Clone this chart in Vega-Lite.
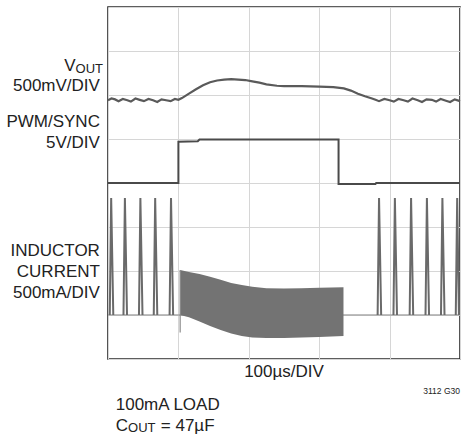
{
  "$schema": "https://vega.github.io/schema/vega-lite/v6.json",
  "width": 352,
  "height": 352,
  "autosize": {"type": "none"},
  "padding": {"left": 108, "top": 7, "right": 8, "bottom": 76},
  "background": "white",
  "config": {
    "view": {"stroke": "#2a2a2a", "strokeWidth": 1.6},
    "text": {"font": "Liberation Sans", "color": "#222222"}
  },
  "datasets": {
    "vout": [
      {"t": 0.0, "v": 5.88}, {"t": 0.1, "v": 5.92}, {"t": 0.2, "v": 5.9}, {"t": 0.3, "v": 5.86}, {"t": 0.42, "v": 5.91},
      {"t": 0.55, "v": 5.88}, {"t": 0.65, "v": 5.85}, {"t": 0.78, "v": 5.92}, {"t": 0.9, "v": 5.89}, {"t": 1.02, "v": 5.86},
      {"t": 1.15, "v": 5.91}, {"t": 1.28, "v": 5.88}, {"t": 1.4, "v": 5.84}, {"t": 1.52, "v": 5.9}, {"t": 1.65, "v": 5.88},
      {"t": 1.78, "v": 5.86}, {"t": 1.9, "v": 5.91}, {"t": 2.0, "v": 5.89}, {"t": 2.1, "v": 5.93}, {"t": 2.3, "v": 6.03},
      {"t": 2.5, "v": 6.13}, {"t": 2.7, "v": 6.22}, {"t": 2.9, "v": 6.29}, {"t": 3.1, "v": 6.33}, {"t": 3.3, "v": 6.35},
      {"t": 3.5, "v": 6.36}, {"t": 3.7, "v": 6.35}, {"t": 3.9, "v": 6.34}, {"t": 4.1, "v": 6.31}, {"t": 4.3, "v": 6.28},
      {"t": 4.5, "v": 6.24}, {"t": 4.8, "v": 6.21}, {"t": 5.0, "v": 6.2}, {"t": 5.5, "v": 6.2}, {"t": 6.0, "v": 6.19},
      {"t": 6.4, "v": 6.18}, {"t": 6.7, "v": 6.15}, {"t": 6.9, "v": 6.1}, {"t": 7.1, "v": 6.03}, {"t": 7.3, "v": 5.97},
      {"t": 7.5, "v": 5.92}, {"t": 7.6, "v": 5.89}, {"t": 7.7, "v": 5.86}, {"t": 7.85, "v": 5.91}, {"t": 8.0, "v": 5.88},
      {"t": 8.12, "v": 5.85}, {"t": 8.25, "v": 5.91}, {"t": 8.4, "v": 5.88}, {"t": 8.52, "v": 5.85}, {"t": 8.65, "v": 5.92},
      {"t": 8.8, "v": 5.88}, {"t": 8.92, "v": 5.84}, {"t": 9.05, "v": 5.9}, {"t": 9.2, "v": 5.89}, {"t": 9.32, "v": 5.85},
      {"t": 9.45, "v": 5.91}, {"t": 9.6, "v": 5.87}, {"t": 9.72, "v": 5.84}, {"t": 9.85, "v": 5.9}, {"t": 10.0, "v": 5.86}
    ],
    "pwm": [
      {"t": 0.0, "v": 4.0}, {"t": 2.0, "v": 4.0}, {"t": 2.0, "v": 4.94}, {"t": 2.55, "v": 4.95}, {"t": 2.6, "v": 4.99},
      {"t": 6.55, "v": 4.99}, {"t": 6.55, "v": 3.98}, {"t": 7.6, "v": 3.98}, {"t": 7.62, "v": 4.0}, {"t": 10.0, "v": 4.0}
    ],
    "base": [
      {"t": 0.0, "v": 1.0}, {"t": 10.0, "v": 1.0}
    ],
    "pulses": [
      {"p": 1, "t": 0.05, "v": 1.0}, {"p": 1, "t": 0.09, "v": 3.66}, {"p": 1, "t": 0.15, "v": 1.0},
      {"p": 2, "t": 0.44, "v": 1.0}, {"p": 2, "t": 0.48, "v": 3.66}, {"p": 2, "t": 0.54, "v": 1.0},
      {"p": 3, "t": 0.88, "v": 1.0}, {"p": 3, "t": 0.92, "v": 3.66}, {"p": 3, "t": 0.98, "v": 1.0},
      {"p": 4, "t": 1.3, "v": 1.0}, {"p": 4, "t": 1.34, "v": 3.66}, {"p": 4, "t": 1.4, "v": 1.0},
      {"p": 5, "t": 1.75, "v": 1.0}, {"p": 5, "t": 1.79, "v": 3.66}, {"p": 5, "t": 1.85, "v": 1.0},
      {"p": 6, "t": 7.66, "v": 1.0}, {"p": 6, "t": 7.7, "v": 3.66}, {"p": 6, "t": 7.76, "v": 1.0},
      {"p": 7, "t": 8.11, "v": 1.0}, {"p": 7, "t": 8.15, "v": 3.66}, {"p": 7, "t": 8.21, "v": 1.0},
      {"p": 8, "t": 8.57, "v": 1.0}, {"p": 8, "t": 8.61, "v": 3.66}, {"p": 8, "t": 8.67, "v": 1.0},
      {"p": 9, "t": 9.02, "v": 1.0}, {"p": 9, "t": 9.06, "v": 3.66}, {"p": 9, "t": 9.12, "v": 1.0},
      {"p": 10, "t": 9.46, "v": 1.0}, {"p": 10, "t": 9.5, "v": 3.66}, {"p": 10, "t": 9.56, "v": 1.0},
      {"p": 11, "t": 9.88, "v": 1.0}, {"p": 11, "t": 9.92, "v": 3.66}, {"p": 11, "t": 9.97, "v": 1.0}
    ],
    "block": [
      {"t": 2.05, "hi": 2.02, "lo": 1.0}, {"t": 2.3, "hi": 1.98, "lo": 0.95}, {"t": 2.6, "hi": 1.93, "lo": 0.85},
      {"t": 2.9, "hi": 1.87, "lo": 0.75}, {"t": 3.2, "hi": 1.8, "lo": 0.66}, {"t": 3.5, "hi": 1.73, "lo": 0.58},
      {"t": 3.8, "hi": 1.68, "lo": 0.52}, {"t": 4.1, "hi": 1.64, "lo": 0.49}, {"t": 4.5, "hi": 1.61, "lo": 0.48},
      {"t": 5.0, "hi": 1.6, "lo": 0.48}, {"t": 5.5, "hi": 1.61, "lo": 0.49}, {"t": 6.0, "hi": 1.62, "lo": 0.5},
      {"t": 6.69, "hi": 1.63, "lo": 0.52}
    ],
    "labels": [
      {"x": -0.23, "y": 6.1, "text": "500mV/DIV"},
      {"x": -0.23, "y": 5.28, "text": "PWM/SYNC"},
      {"x": -0.23, "y": 4.8, "text": "5V/DIV"},
      {"x": -0.23, "y": 2.34, "text": "INDUCTOR"},
      {"x": -0.23, "y": 1.86, "text": "CURRENT"},
      {"x": -0.23, "y": 1.39, "text": "500mA/DIV"},
      {"x": 5.0, "y": -0.41, "text": "100µs/DIV", "al": "center"}
    ],
    "leftlabels": [
      {"x": 0.22, "y": -1.16, "text": "100mA LOAD"},
      {"x": 0.22, "y": -1.63, "text": "C"},
      {"x": 1.5, "y": -1.63, "text": "= 47µF"}
    ],
    "subs": [
      {"x": -0.92, "y": 6.5, "text": "OUT"},
      {"x": 0.57, "y": -1.67, "text": "OUT"}
    ],
    "vletter": [
      {"x": -0.92, "y": 6.54, "text": "V"}
    ],
    "note": [
      {"x": 10.0, "y": -0.8, "text": "3112 G30"}
    ]
  },
  "layer": [
    {
      "data": {"name": "base"},
      "mark": {"type": "rule", "strokeWidth": 0},
      "encoding": {
        "x": {"field": "t", "type": "quantitative", "scale": {"domain": [0, 10], "nice": false, "zero": false},
          "axis": {"values": [0, 1, 2, 3, 4, 5, 6, 7, 8, 9, 10], "labels": false, "ticks": false, "domain": false, "title": null, "gridColor": "#d6d6d6", "gridWidth": 1, "gridOpacity": 1}},
        "y": {"field": "v", "type": "quantitative", "scale": {"domain": [0, 8], "nice": false, "zero": false},
          "axis": {"values": [0, 1, 2, 3, 4, 5, 6, 7, 8], "labels": false, "ticks": false, "domain": false, "title": null, "gridColor": "#d6d6d6", "gridWidth": 1, "gridOpacity": 1}}
      }
    },
    {
      "mark": {"type": "rule", "color": "#c4c4c4", "strokeWidth": 1},
      "encoding": {"x": {"datum": 5}}
    },
    {
      "mark": {"type": "rule", "color": "#bdbdbd", "strokeWidth": 4, "strokeDash": [1, 7.8]},
      "encoding": {"x": {"datum": 5}}
    },
    {
      "mark": {"type": "rule", "color": "#c4c4c4", "strokeWidth": 1},
      "encoding": {"y": {"datum": 4}}
    },
    {
      "mark": {"type": "rule", "color": "#bdbdbd", "strokeWidth": 4, "strokeDash": [1, 6.04]},
      "encoding": {"y": {"datum": 4}}
    },
    {
      "data": {"name": "base"},
      "mark": {"type": "line", "color": "#a8a8a8", "strokeWidth": 1.6},
      "encoding": {"x": {"field": "t", "type": "quantitative"}, "y": {"field": "v", "type": "quantitative"}}
    },
    {
      "data": {"name": "pulses"},
      "mark": {"type": "line", "color": "#6a6a6a", "strokeWidth": 2},
      "encoding": {"x": {"field": "t", "type": "quantitative"}, "y": {"field": "v", "type": "quantitative"}, "detail": {"field": "p"}}
    },
    {
      "data": {"name": "block"},
      "mark": {"type": "area", "color": "#737373", "opacity": 1},
      "encoding": {"x": {"field": "t", "type": "quantitative"}, "y": {"field": "hi", "type": "quantitative"}, "y2": {"field": "lo"}}
    },
    {
      "data": {"values": [{"t": 2.05, "a": 0.6, "b": 2.02}]},
      "mark": {"type": "rule", "color": "#8a8a8a", "strokeWidth": 1.2},
      "encoding": {"x": {"field": "t", "type": "quantitative"}, "y": {"field": "a", "type": "quantitative"}, "y2": {"field": "b"}}
    },
    {
      "data": {"name": "pwm"},
      "mark": {"type": "line", "color": "#4a4a4a", "strokeWidth": 2},
      "encoding": {"x": {"field": "t", "type": "quantitative"}, "y": {"field": "v", "type": "quantitative"}}
    },
    {
      "data": {"name": "vout"},
      "mark": {"type": "line", "color": "#5a5a5a", "strokeWidth": 2.2},
      "encoding": {"x": {"field": "t", "type": "quantitative"}, "y": {"field": "v", "type": "quantitative"}}
    },
    {
      "data": {"name": "labels"},
      "mark": {"type": "text", "fontSize": 17, "baseline": "alphabetic", "align": {"expr": "datum.al ? datum.al : 'right'"}},
      "encoding": {"x": {"field": "x", "type": "quantitative"}, "y": {"field": "y", "type": "quantitative"}, "text": {"field": "text"}}
    },
    {
      "data": {"name": "vletter"},
      "mark": {"type": "text", "fontSize": 17, "baseline": "alphabetic", "align": "right"},
      "encoding": {"x": {"field": "x", "type": "quantitative"}, "y": {"field": "y", "type": "quantitative"}, "text": {"field": "text"}}
    },
    {
      "data": {"name": "leftlabels"},
      "mark": {"type": "text", "fontSize": 17, "baseline": "alphabetic", "align": "left"},
      "encoding": {"x": {"field": "x", "type": "quantitative"}, "y": {"field": "y", "type": "quantitative"}, "text": {"field": "text"}}
    },
    {
      "data": {"name": "subs"},
      "mark": {"type": "text", "fontSize": 13, "baseline": "alphabetic", "align": "left"},
      "encoding": {"x": {"field": "x", "type": "quantitative"}, "y": {"field": "y", "type": "quantitative"}, "text": {"field": "text"}}
    },
    {
      "data": {"name": "note"},
      "mark": {"type": "text", "fontSize": 8.5, "baseline": "alphabetic", "align": "right"},
      "encoding": {"x": {"field": "x", "type": "quantitative"}, "y": {"field": "y", "type": "quantitative"}, "text": {"field": "text"}}
    }
  ]
}
